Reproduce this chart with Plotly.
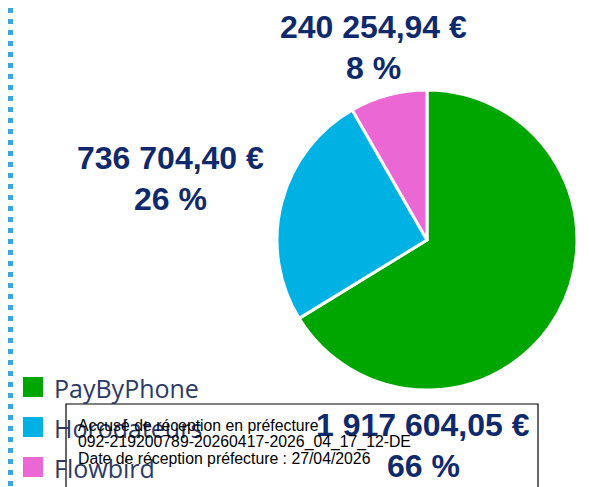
import plotly.graph_objects as go

# Données
categories = ["PayByPhone", "Horodateurs", "Flowbird"]
montants = [1917604.05, 736704.40, 240254.94]
montants_txt = ["1 917 604,05 €", "736 704,40 €", "240 254,94 €"]
pourcentages = ["66 %", "26 %", "8 %"]
couleurs = ["#00A600", "#00B2E4", "#EB67D4"]

# la page ajoute une marge de 8 px autour de la figure
OFF = 8
W, H = 589 - OFF, 487 - OFF
navy = "#0E2A6C"


def px(x):
    return (x - OFF) / W


def py(y):
    return 1 - (y - OFF) / H


fig = go.Figure()

# Camembert
fig.add_trace(go.Pie(
    labels=categories,
    values=montants,
    marker=dict(colors=couleurs, line=dict(color="white", width=3)),
    sort=False,
    direction="clockwise",
    rotation=0,
    textinfo="none",
    hoverinfo="label+value+percent",
    showlegend=False,
    domain=dict(x=[px(277), px(577)], y=[py(390), py(90)]),
))

# Étiquettes (montant + pourcentage)
positions_lbl = [(423, 425), (170, 158), (373, 27)]
annotations = []
for (cx, cy), m, p in zip(positions_lbl, montants_txt, pourcentages):
    annotations.append(dict(x=px(cx), y=py(cy), text=m, showarrow=False,
                            xref="paper", yref="paper", xanchor="center", yanchor="middle",
                            font=dict(family="Liberation Sans", size=32, color=navy, weight="bold")))
    annotations.append(dict(x=px(cx), y=py(cy + 41), text=p, showarrow=False,
                            xref="paper", yref="paper", xanchor="center", yanchor="middle",
                            font=dict(family="Liberation Sans", size=32, color=navy, weight="bold")))

# Légende manuelle
shapes = []
leg_y = [387, 427, 467]
for cat, col, ly in zip(categories, couleurs, leg_y):
    shapes.append(dict(type="rect", xref="paper", yref="paper",
                       x0=px(23), x1=px(43), y0=py(ly + 10), y1=py(ly - 10),
                       fillcolor=col, line=dict(width=0)))
    annotations.append(dict(x=px(52), y=py(ly + 1), text=cat, showarrow=False,
                            xref="paper", yref="paper", xanchor="left", yanchor="middle",
                            font=dict(family="Open Sans", size=25, color="#2B3A68")))

# Ligne pointillée à gauche
shapes.append(dict(type="line", xref="paper", yref="paper",
                   x0=px(10.5), x1=px(10.5), y0=1, y1=0,
                   line=dict(color="#3EA6DF", width=5, dash="5px,6px")))

# Cachet de réception
shapes.append(dict(type="rect", xref="paper", yref="paper",
                   x0=px(66), x1=px(538), y0=py(495), y1=py(404),
                   line=dict(color="black", width=1.2), fillcolor="rgba(0,0,0,0)"))
cachet = [
    "Accusé de réception en préfecture",
    "092-219200789-20260417-2026_04_17_12-DE",
    "Date de réception préfecture : 27/04/2026",
]
for i, ligne in enumerate(cachet):
    annotations.append(dict(x=px(76), y=py(425 + i * 16.5), text=ligne, showarrow=False,
                            xref="paper", yref="paper", xanchor="left", yanchor="middle",
                            font=dict(family="Liberation Sans", size=15.8, color="black")))

fig.update_layout(
    width=W, height=H,
    margin=dict(l=0, r=0, t=0, b=0),
    paper_bgcolor="white",
    plot_bgcolor="white",
    shapes=shapes,
    annotations=annotations,
)

fig.write_html("out.html")
